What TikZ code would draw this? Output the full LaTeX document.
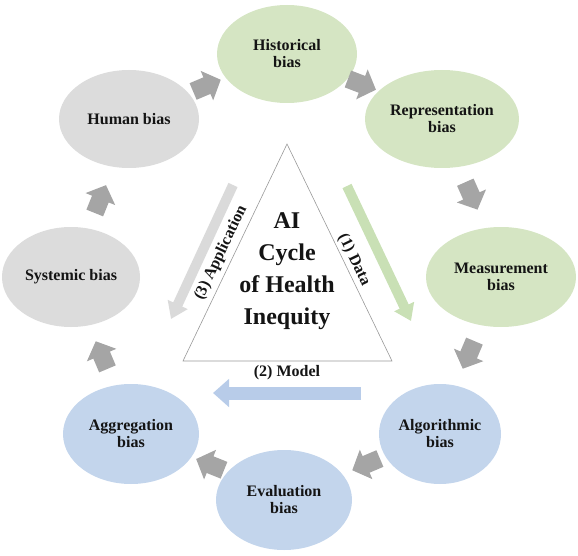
\documentclass[tikz,border=0pt]{standalone}
\usepackage{fontspec}
\setmainfont{Liberation Serif}
\usetikzlibrary{shapes.geometric,arrows.meta}
\definecolor{gell}{HTML}{D5E5C3}
\definecolor{yell}{HTML}{DCDCDC}
\definecolor{bell}{HTML}{C3D5EC}
\definecolor{arrgray}{HTML}{A5A5A5}
\definecolor{garr}{HTML}{C9E0B5}
\definecolor{yarr}{HTML}{DADADA}
\definecolor{barr}{HTML}{B8CCE9}
\definecolor{txt}{HTML}{141414}
\begin{document}
\begin{tikzpicture}[x=1pt,y=-1pt,
  ell/.style={ellipse, inner sep=0pt, align=center, text=txt,
    font=\bfseries\fontsize{16}{17}\selectfont},
  lab/.style={text=txt, inner sep=0pt, font=\bfseries\fontsize{16}{18}\selectfont},
  blk/.pic={\fill[arrgray] (-14,-9) -- (1,-9) -- (1,-16) -- (16,0) -- (1,16) -- (1,9) -- (-14,9) -- cycle;},
  bigarr/.style={line width=#1, -{Triangle[width=2.1*#1,length=16pt]}},
  tri/.style={draw=gray!80, line width=0.6pt, fill=white}]
\useasboundingbox (0,0) rectangle (578,556);

% ellipses
\node[ell, fill=gell, minimum width=140pt, minimum height=98pt] (his) at (287,54) {Historical\\bias};
\node[ell, fill=gell, minimum width=154pt, minimum height=98pt] (rep) at (442,119) {Representation\\bias};
\node[ell, fill=gell, minimum width=150pt, minimum height=100pt] (mea) at (501,277) {Measurement\\bias};
\node[ell, fill=bell, minimum width=122pt, minimum height=100pt] (alg) at (440,434) {Algorithmic\\bias};
\node[ell, fill=bell, minimum width=136pt, minimum height=100pt] (eva) at (284,500) {Evaluation\\bias};
\node[ell, fill=bell, minimum width=136pt, minimum height=100pt] (agg) at (131,434) {Aggregation\\bias};
\node[ell, fill=yell, minimum width=138pt, minimum height=100pt] (sys) at (71,277) {Systemic bias};
\node[ell, fill=yell, minimum width=140pt, minimum height=98pt] (hum) at (129,119) {Human bias};

% block arrows between ellipses
\pic[rotate=23] (a1) at (206,86) {blk};
\pic[rotate=-21] (a2) at (361,84) {blk};
\pic[rotate=-66] (a3) at (471,195) {blk};
\pic[rotate=-113] (a4) at (469,354) {blk};
\pic[rotate=-157] (a5) at (367,464) {blk};
\pic[rotate=158] (a6) at (211,465) {blk};
\pic[rotate=113] (a7) at (102,356) {blk};
\pic[rotate=68] (a8) at (100,200) {blk};

% triangle
\coordinate (t1) at (287,144);
\coordinate (t2) at (392,361);
\coordinate (t3) at (183,361);
\draw[tri] (t1) -- (t2) -- (t3) -- cycle;
\node[align=center, text=txt, inner sep=0pt, font=\bfseries\fontsize{24}{32}\selectfont] (title) at (287,271) {AI\\Cycle\\of Health\\Inequity};

% big arrows
\coordinate (d1) at (347,186);
\coordinate (d2) at (411,321);
\draw[bigarr=10pt, garr] (d1) -- (d2);
\coordinate (m1) at (361,393);
\coordinate (m2) at (213,393);
\draw[bigarr=13pt, barr] (m1) -- (m2);
\coordinate (p1) at (233,185);
\coordinate (p2) at (171,319);
\draw[bigarr=10pt, yarr] (p1) -- (p2);

% labels
\node[lab, rotate=-64.2] (ldata) at (354,260) {(1) Data};
\node[lab] (lmodel) at (287,373) {(2) Model};
\node[lab, rotate=64.4] (lapp) at (221,253) {(3) Application};
\end{tikzpicture}
\end{document}
